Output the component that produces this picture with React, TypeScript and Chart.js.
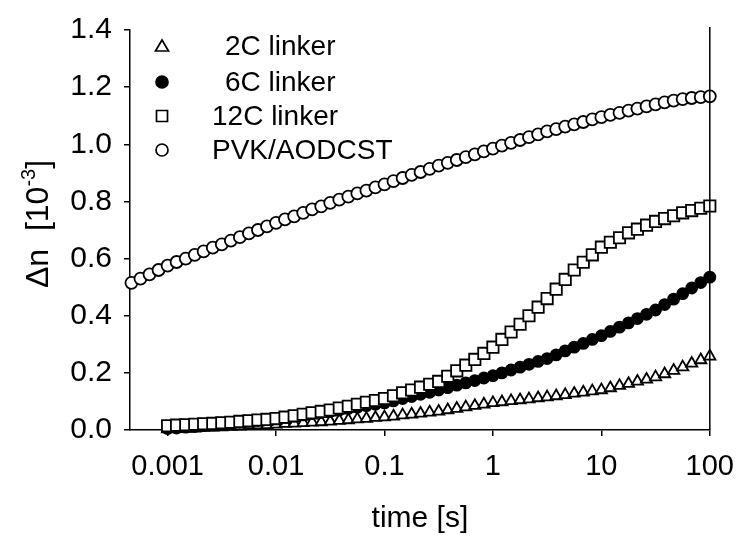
import React, { useEffect, useRef } from 'react';
import { Chart, registerables } from 'chart.js';

Chart.register(...registerables);

const FONT = '"Liberation Sans", Arial, Helvetica, sans-serif';

// sample times [s]
const times = [
  0.000464, 0.000562, 0.000681, 0.000825,
  0.001, 0.00121, 0.00147, 0.00178, 0.00215, 0.00261, 0.00316, 0.00383, 0.00464, 0.00562, 0.00681, 0.00825,
  0.01, 0.0121, 0.0147, 0.0178, 0.0215, 0.0261, 0.0316, 0.0383, 0.0464, 0.0562, 0.0681, 0.0825,
  0.1, 0.121, 0.147, 0.178, 0.215, 0.261, 0.316, 0.383, 0.464, 0.562, 0.681, 0.825,
  1, 1.21, 1.47, 1.78, 2.15, 2.61, 3.16, 3.83, 4.64, 5.62, 6.81, 8.25,
  10, 12.1, 14.7, 17.8, 21.5, 26.1, 31.6, 38.3, 46.4, 56.2, 68.1, 82.5,
  100,
];

const pvk = [
  0.515, 0.530, 0.545, 0.560,
  0.575, 0.588, 0.600, 0.613, 0.625, 0.638, 0.650, 0.663, 0.675, 0.688, 0.700, 0.713,
  0.725, 0.737, 0.748, 0.760, 0.772, 0.783, 0.795, 0.806, 0.817, 0.828, 0.838, 0.849,
  0.860, 0.871, 0.882, 0.893, 0.903, 0.914, 0.925, 0.935, 0.945, 0.955, 0.965, 0.975,
  0.985, 0.995, 1.005, 1.015, 1.025, 1.035, 1.045, 1.053, 1.062, 1.070, 1.078, 1.087,
  1.095, 1.103, 1.110, 1.118, 1.125, 1.133, 1.140, 1.147, 1.153, 1.158, 1.162, 1.165,
  1.168,
];

const linker6 = [
  null, null, null, null,
  0.005, 0.007, 0.010, 0.012, 0.015, 0.017, 0.020, 0.023, 0.027, 0.030, 0.033, 0.037,
  0.040, 0.044, 0.048, 0.053, 0.057, 0.061, 0.065, 0.070, 0.075, 0.080, 0.085, 0.090,
  0.095, 0.102, 0.110, 0.117, 0.125, 0.132, 0.140, 0.148, 0.157, 0.165, 0.173, 0.182,
  0.190, 0.200, 0.210, 0.220, 0.230, 0.240, 0.250, 0.263, 0.277, 0.290, 0.303, 0.317,
  0.330, 0.345, 0.360, 0.375, 0.390, 0.405, 0.420, 0.439, 0.458, 0.477, 0.497, 0.516,
  0.535,
];

const linker12 = [
  null, null, null, null,
  0.015, 0.017, 0.018, 0.020, 0.022, 0.023, 0.025, 0.027, 0.030, 0.032, 0.035, 0.037,
  0.040, 0.045, 0.050, 0.055, 0.060, 0.065, 0.070, 0.077, 0.083, 0.090, 0.097, 0.103,
  0.110, 0.120, 0.130, 0.140, 0.150, 0.160, 0.170, 0.188, 0.207, 0.227, 0.247, 0.268,
  0.290, 0.317, 0.343, 0.370, 0.400, 0.430, 0.460, 0.493, 0.527, 0.560, 0.587, 0.613,
  0.640, 0.657, 0.673, 0.690, 0.703, 0.717, 0.730, 0.740, 0.750, 0.760, 0.768, 0.776,
  0.784,
];

const linker2 = [
  null, null, null, null,
  0.003, 0.004, 0.005, 0.006, 0.008, 0.009, 0.010, 0.012, 0.013, 0.015, 0.017, 0.018,
  0.020, 0.022, 0.023, 0.025, 0.027, 0.028, 0.030, 0.033, 0.035, 0.038, 0.040, 0.043,
  0.045, 0.048, 0.052, 0.055, 0.058, 0.062, 0.065, 0.070, 0.075, 0.080, 0.085, 0.090,
  0.095, 0.098, 0.102, 0.105, 0.108, 0.112, 0.115, 0.119, 0.123, 0.128, 0.132, 0.136,
  0.140, 0.147, 0.155, 0.162, 0.170, 0.177, 0.185, 0.196, 0.208, 0.220, 0.233, 0.245,
  0.258,
];

const seriesNames = ['2C linker', '6C linker', '12C linker', 'PVK/AODCST'];
const xTickValues = [0.001, 0.01, 0.1, 1, 10, 100];
const xTickLabels = ['0.001', '0.01', '0.1', '1', '10', '100'];
const xTitle = 'time [s]';

const toPoints = (vals: (number | null)[]) =>
  times.map((t, i) => ({ x: t, y: vals[i] })).filter((p) => p.y !== null);

function drawMarker(ctx: CanvasRenderingContext2D, kind: string, x: number, y: number) {
  ctx.save();
  ctx.lineWidth = 1.7;
  ctx.strokeStyle = '#000';
  ctx.fillStyle = '#fff';
  ctx.beginPath();
  if (kind === 'triangle') {
    ctx.moveTo(x, y - 6);
    ctx.lineTo(x + 6.5, y + 5);
    ctx.lineTo(x - 6.5, y + 5);
    ctx.closePath();
  } else if (kind === 'dot') {
    ctx.fillStyle = '#000';
    ctx.arc(x, y, 6, 0, Math.PI * 2);
  } else if (kind === 'square') {
    ctx.rect(x - 5.5, y - 5.5, 11, 11);
  } else {
    ctx.arc(x, y, 6, 0, Math.PI * 2);
  }
  ctx.fill();
  ctx.stroke();
  ctx.restore();
}

const decorPlugin = {
  id: 'decor',
  afterDraw(chart: any) {
    const { ctx, chartArea } = chart;
    ctx.save();
    // right frame line
    ctx.strokeStyle = '#000';
    ctx.lineWidth = 1.5;
    ctx.beginPath();
    ctx.moveTo(chartArea.right, chartArea.top - 3);
    ctx.lineTo(chartArea.right, chartArea.bottom);
    ctx.stroke();

    // x title
    ctx.fillStyle = '#000';
    ctx.font = `30px ${FONT}`;
    ctx.textAlign = 'center';
    ctx.textBaseline = 'alphabetic';
    ctx.fillText(xTitle, (chartArea.left + chartArea.right) / 2, 527);

    // y title with superscript
    const big = `32px ${FONT}`;
    const small = `20px ${FONT}`;
    const p1 = '\u0394n  [10';
    const sup = '-3';
    const p2 = ']';
    ctx.font = big;
    const w1 = ctx.measureText(p1).width;
    const w3 = ctx.measureText(p2).width;
    ctx.font = small;
    const w2 = ctx.measureText(sup).width;
    const total = w1 + w2 + w3;
    ctx.translate(48, 224);
    ctx.rotate(-Math.PI / 2);
    ctx.textAlign = 'left';
    let cx = -total / 2;
    ctx.font = big;
    ctx.fillText(p1, cx, 0);
    cx += w1;
    ctx.font = small;
    ctx.fillText(sup, cx, -13);
    cx += w2;
    ctx.font = big;
    ctx.fillText(p2, cx, 0);
    ctx.restore();

    // legend
    const rows = [
      { kind: 'triangle', y: 46, tx: 225 },
      { kind: 'dot', y: 82, tx: 225 },
      { kind: 'square', y: 116, tx: 212 },
      { kind: 'circle', y: 150, tx: 212 },
    ];
    ctx.save();
    ctx.font = `28px ${FONT}`;
    ctx.fillStyle = '#000';
    ctx.textAlign = 'left';
    ctx.textBaseline = 'middle';
    rows.forEach((r, i) => {
      drawMarker(ctx, r.kind, 162, r.y);
      ctx.fillStyle = '#000';
      ctx.fillText(seriesNames[i], r.tx, r.y + 1);
    });
    ctx.restore();
  },
};

export default function App() {
  const ref = useRef<HTMLCanvasElement>(null);

  useEffect(() => {
    if (!ref.current) return;
    const common = { borderColor: '#000', borderWidth: 1.8, showLine: false, clip: false as any };
    const chart = new Chart(ref.current, {
      type: 'scatter',
      data: {
        datasets: [
          { ...common, label: seriesNames[2], data: toPoints(linker12), pointStyle: 'rect', pointRadius: 8, backgroundColor: '#fff' },
          { ...common, label: seriesNames[1], data: toPoints(linker6), pointStyle: 'circle', pointRadius: 5.5, backgroundColor: '#000' },
          { ...common, label: seriesNames[0], data: toPoints(linker2), pointStyle: 'triangle', pointRadius: 6.5, backgroundColor: '#fff' },
          { ...common, label: seriesNames[3], data: toPoints(pvk), pointStyle: 'circle', pointRadius: 6, backgroundColor: '#fff' },
        ],
      },
      options: {
        animation: false,
        responsive: false,
        devicePixelRatio: 1,
        layout: { padding: { top: 23, right: 30, left: 0, bottom: 0 } },
        plugins: { legend: { display: false }, tooltip: { enabled: false } },
        scales: {
          x: {
            type: 'logarithmic',
            min: 0.00045,
            max: 100,
            afterBuildTicks: (s: any) => {
              s.ticks = xTickValues.map((v) => ({ value: v }));
            },
            afterFit: (s: any) => {
              s.height = 107;
            },
            ticks: {
              autoSkip: false,
              maxRotation: 0,
              padding: 14,
              color: '#000',
              font: { family: FONT, size: 29 },
              callback: (_v: any, i: number) => xTickLabels[i],
            },
            grid: { drawOnChartArea: false, drawTicks: true, tickLength: 6, color: '#000', lineWidth: 1.5 },
            border: { display: true, color: '#000', width: 1.5 },
          },
          y: {
            min: 0,
            max: 1.4,
            afterFit: (s: any) => {
              s.width = 130;
            },
            ticks: {
              stepSize: 0.2,
              padding: 12,
              color: '#000',
              font: { family: FONT, size: 30 },
              callback: (v: any) => Number(v).toFixed(1),
            },
            grid: { drawOnChartArea: false, drawTicks: true, tickLength: 6, color: '#000', lineWidth: 1.5 },
            border: { display: true, color: '#000', width: 1.5 },
          },
        },
      },
      plugins: [decorPlugin],
    });
    return () => chart.destroy();
  }, []);

  return (
    <div style={{ position: 'fixed', left: 0, top: 0, width: 748, height: 537, background: '#fff' }}>
      <canvas ref={ref} width={748} height={537} style={{ width: 748, height: 537, display: 'block' }} />
    </div>
  );
}
